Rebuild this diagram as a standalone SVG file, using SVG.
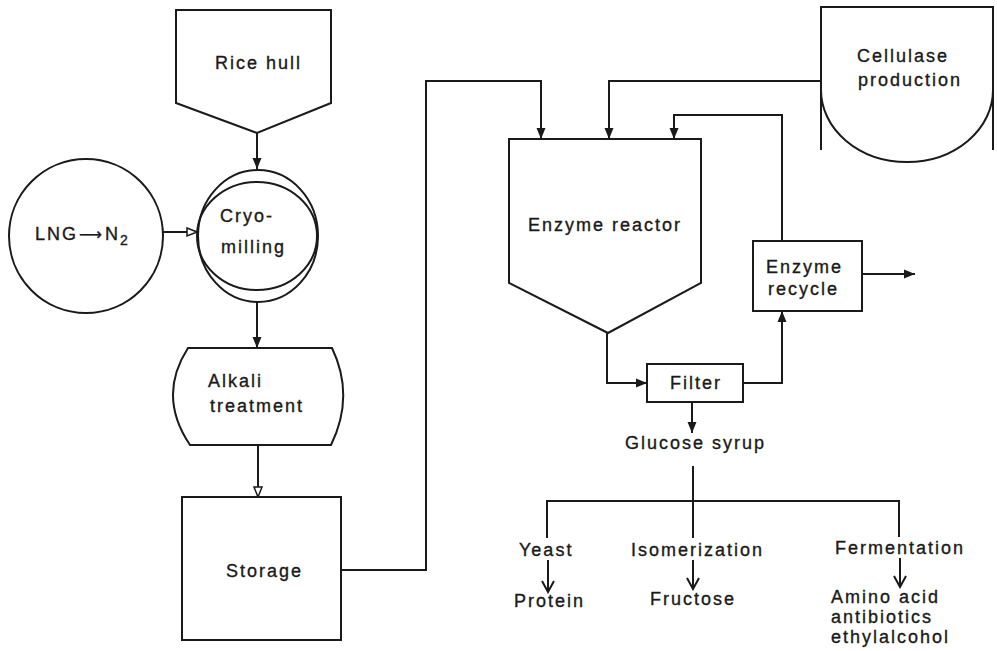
<svg xmlns="http://www.w3.org/2000/svg" width="997" height="651" viewBox="0 0 997 651">
<style>
.s{fill:none;stroke:#1a1a1a;stroke-width:2;stroke-linejoin:miter}
.c{fill:none;stroke:#1a1a1a;stroke-width:2}
text{font-family:"Liberation Sans",Arial,sans-serif;font-size:18px;letter-spacing:2px;fill:#1a1a1a;stroke:#1a1a1a;stroke-width:0.35}
</style>
<defs>
<marker id="af" markerUnits="userSpaceOnUse" markerWidth="12" markerHeight="12" viewBox="0 0 12 12" refX="11" refY="6" orient="auto"><path d="M0,1.5 L11,6 L0,10.5 Z" fill="#1a1a1a"/></marker>
<marker id="ah" markerUnits="userSpaceOnUse" markerWidth="12" markerHeight="12" viewBox="0 0 12 12" refX="11" refY="6" orient="auto"><path d="M1,2 L11,6 L1,10 Z" fill="#fff" stroke="#1a1a1a" stroke-width="1.5"/></marker>
<marker id="ao" markerUnits="userSpaceOnUse" markerWidth="14" markerHeight="14" viewBox="0 0 14 14" refX="12" refY="7" orient="auto"><path d="M1,1 L12,7 L1,13" fill="none" stroke="#1a1a1a" stroke-width="2"/></marker>
</defs>

<g id="connectors">
<path class="c" d="M257,133 V169" marker-end="url(#af)"/>
<path class="c" d="M163,232 H197" marker-end="url(#ah)"/>
<path class="c" d="M257,302 V348" marker-end="url(#af)"/>
<path class="c" d="M258,445 V497" marker-end="url(#ah)"/>
<path class="c" d="M341,570 H426 V81 H541 V139" marker-end="url(#af)"/>
<path class="c" d="M821,81 H609 V139" marker-end="url(#af)"/>
<path class="c" d="M782,241 V115 H674 V139" marker-end="url(#af)"/>
<path class="c" d="M607,333 V383 H647" marker-end="url(#af)"/>
<path class="c" d="M743,383 H782 V311" marker-end="url(#af)"/>
<path class="c" d="M862,274 H915" marker-end="url(#af)"/>
<path class="c" d="M692,402 V433" marker-end="url(#af)"/>
<path class="c" d="M693,466 V538"/>
<path class="c" d="M547,538 V501 H899 V537"/>
<path class="c" d="M548,560 V592" marker-end="url(#ao)"/>
<path class="c" d="M693,560 V589" marker-end="url(#ao)"/>
<path class="c" d="M900,558 V587" marker-end="url(#ao)"/>
</g>

<g id="rice-hull">
<polygon class="s" points="176,10 331,10 331,103 257,133 176,103"/>
<text x="215" y="69">Rice hull</text>
</g>

<g id="lng">
<circle class="s" cx="86" cy="236" r="77"/>
<text x="35" y="240" letter-spacing="1">LNG<tspan font-family="DejaVu Sans, sans-serif" font-size="16" dx="1">⟶</tspan><tspan dx="1">N</tspan><tspan font-size="14" dy="5">2</tspan></text>
</g>

<g id="cryo-milling">
<ellipse class="s" cx="258" cy="236" rx="60" ry="66"/>
<ellipse class="s" cx="257" cy="236" rx="60" ry="54"/>
<text x="220" y="222">Cryo-</text>
<text x="221" y="253">milling</text>
</g>

<g id="alkali">
<path class="s" d="M188,348 L332,348 Q355,396 331,445 L190,445 Q157,396 188,348 Z"/>
<text x="208" y="387">Alkali</text>
<text x="210" y="412">treatment</text>
</g>

<g id="storage">
<rect class="s" x="182" y="497" width="159" height="143"/>
<text x="226" y="577">Storage</text>
</g>

<g id="cellulase">
<path class="s" d="M821,150 V7 H993 V150"/>
<path class="s" d="M821,90 A86,72 0 0 0 993,90"/>
<text x="857" y="62">Cellulase</text>
<text x="858" y="86">production</text>
</g>

<g id="enzyme-reactor">
<polygon class="s" points="509,139 701,139 701,283 608,333 509,283"/>
<text x="528" y="231">Enzyme reactor</text>
</g>

<g id="enzyme-recycle">
<rect class="s" x="753" y="241" width="109" height="70"/>
<text x="766" y="273">Enzyme</text>
<text x="768" y="295">recycle</text>
</g>

<g id="filter">
<rect class="s" x="647" y="364" width="96" height="38"/>
<text x="670" y="389">Filter</text>
</g>

<g id="glucose"><text x="625" y="449">Glucose syrup</text></g>
<g id="yeast"><text x="519" y="556">Yeast</text></g>
<g id="protein"><text x="514" y="607">Protein</text></g>
<g id="isomerization"><text x="631" y="556">Isomerization</text></g>
<g id="fructose"><text x="650" y="605">Fructose</text></g>
<g id="fermentation"><text x="835" y="554">Fermentation</text></g>
<g id="products">
<text x="831" y="603">Amino acid</text>
<text x="831" y="623">antibiotics</text>
<text x="831" y="643">ethylalcohol</text>
</g>
</svg>
